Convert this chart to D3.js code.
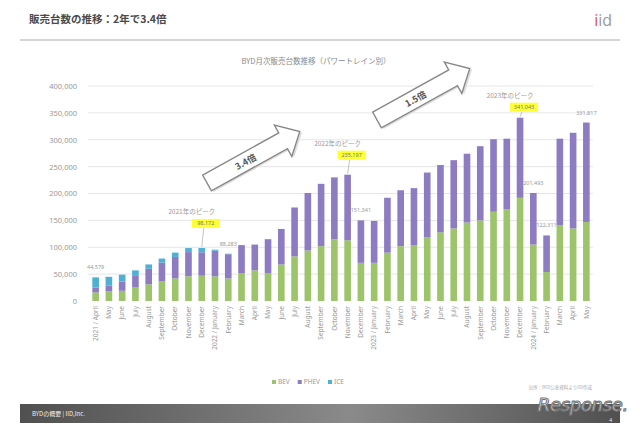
<!DOCTYPE html>
<html><head><meta charset="utf-8">
<script src="https://cdn.jsdelivr.net/npm/d3@7"></script>
<style>
html,body{margin:0;padding:0;background:#fff;}
svg{display:block;}
</style></head>
<body><svg id="c" width="640" height="426"></svg>
<script>
const months = ["2021 / April","May","June","July","August","September","October","November","December",
"2022 / January","February","March","April","May","June","July","August","September","October","November","December",
"2023 / January","February","March","April","May","June","July","August","September","October","November","December",
"2024 / January","February","March","April","May"];
const bev  = [16000,18000,19000,25000,31000,37000,42000,46000,47000,46000,42000,52000,57000,52000,68000,83000,94000,102000,115000,113000,71000,71000,90000,102000,104000,119000,128000,135000,146000,150000,166000,171000,192000,105000,54000,141000,135000,147000];
const phev = [9000,11000,17000,23000,29000,34500,40000,45000,43700,47500,45000,52000,48000,63000,66000,91000,107000,116000,115000,122000,79000,78000,102000,104000,106000,120000,125000,127000,128000,138000,135000,131000,149000,96000,68000,161000,178000,185000];
const ice  = [19000,16000,13000,9000,8000,7500,8000,7500,8000,2000,1000,0,0,0,0,0,0,0,0,0,0,0,0,0,0,0,0,0,0,0,0,0,0,0,0,0,0,0];
const yTicks = [0,50000,100000,150000,200000,250000,300000,350000,400000];
const seriesNames = ["BEV","PHEV","ICE"];
const seriesColors = ["#9dc36b","#8e7cc3","#4fb0d6"];
const valueLabels = [{i:0,t:"44,579"},{i:10,t:"88,283"},{i:20,t:"151,341"},{i:33,t:"201,493"},{i:34,t:"122,311"},{i:37,t:"331,817"}];
const peaks = [{i:8,title:"2021年のピーク",t:"98,172",gap:20},{i:19,title:"2022年のピーク",t:"235,197",gap:15},{i:32,title:"2023年のピーク",t:"341,043",gap:6}];

const svg = d3.select("#c");
const JP = "'Noto Sans CJK JP','Noto Sans',sans-serif";

// header
svg.append("text").attr("x",29).attr("y",23).attr("font-family",JP).attr("font-size",10.5).attr("font-weight","bold").attr("fill","#4a4a4a").text("販売台数の推移：2年で3.4倍");
const logo = svg.append("text").attr("x",612).attr("y",26).attr("text-anchor","end").attr("font-family","'Open Sans',sans-serif").attr("font-size",16).attr("fill","#999");
logo.append("tspan").attr("fill","#d9534f").text("i");
logo.append("tspan").text("id");
svg.append("rect").attr("x",20).attr("y",39).attr("width",600).attr("height",2).attr("fill","#d4d4d4");

// chart title
svg.append("text").attr("x",316).attr("y",64).attr("text-anchor","middle").attr("font-family",JP).attr("font-size",7.5).attr("fill","#888").text("BYD月次販売台数推移（パワートレイン別）");

const x = d3.scaleBand().domain(months.map((m,i)=>i)).range([89,593]).paddingInner(0.5).paddingOuter(0.25);
const y = d3.scaleLinear().domain([0,400000]).range([301,86]);

// grid
svg.append("g").selectAll("line").data(yTicks.slice(1)).join("line")
  .attr("x1",88).attr("x2",593).attr("y1",d=>y(d)).attr("y2",d=>y(d)).attr("stroke","#e0e0e0").attr("stroke-width",0.8);

// y axis
const yAxis = svg.append("g").attr("transform","translate(80,0)")
  .call(d3.axisLeft(y).tickValues(yTicks).tickSize(0).tickPadding(3).tickFormat(d3.format(",")));
yAxis.select(".domain").remove();
yAxis.selectAll("text").attr("font-family","'Noto Sans',sans-serif").attr("font-size",7.5).attr("fill","#999");

// x axis
const xAxis = svg.append("g").attr("transform","translate(0,303)")
  .call(d3.axisBottom(x).tickSize(0).tickFormat(i=>months[i]));
xAxis.select(".domain").remove();
xAxis.selectAll("text").attr("font-family","'Noto Sans',sans-serif").attr("font-size",6.5).attr("fill","#999")
  .attr("transform","rotate(-90)").attr("text-anchor","end").attr("dx","-3").attr("dy","0.35em").attr("x",0).attr("y",0);

// stacked bars
const table = months.map((m,i)=>({i,BEV:bev[i],PHEV:phev[i],ICE:ice[i]}));
const stack = d3.stack().keys(seriesNames)(table);
svg.append("g").selectAll("g").data(stack).join("g").attr("fill",(d,k)=>seriesColors[k])
  .selectAll("rect").data(d=>d).join("rect")
  .attr("x",d=>x(d.data.i)).attr("width",x.bandwidth())
  .attr("y",d=>y(d[1])).attr("height",d=>Math.max(0,y(d[0])-y(d[1])));

const total = i=>bev[i]+phev[i]+ice[i];
const cx = i=>x(i)+x.bandwidth()/2;

// value labels
svg.append("g").selectAll("text").data(valueLabels).join("text")
  .attr("x",d=>cx(d.i)).attr("y",d=>y(total(d.i))-8).attr("text-anchor","middle")
  .attr("font-family","'Noto Sans',sans-serif").attr("font-size",5.5).attr("fill","#999").text(d=>d.t);

// peaks
const pk = svg.append("g");
peaks.forEach(p=>{
  const bx = cx(p.i), top = y(total(p.i));
  const bb = top - p.gap;
  pk.append("line").attr("x1",bx+2).attr("y1",bb).attr("x2",bx).attr("y2",top-1).attr("stroke","#aaa").attr("stroke-width",0.7);
  pk.append("rect").attr("x",bx-10).attr("y",bb-9).attr("width",28).attr("height",9).attr("fill","#ffff33");
  pk.append("text").attr("x",bx+4).attr("y",bb-2.5).attr("text-anchor","middle").attr("font-family","'Noto Sans',sans-serif").attr("font-size",5.5).attr("fill","#777").text(p.t);
  pk.append("text").attr("x",bx-10).attr("y",bb-14).attr("text-anchor","middle").attr("font-family",JP).attr("font-size",6.5).attr("fill","#999").text(p.title);
});

// arrows
function arrow(tx,ty,ang,label){
  const g = svg.append("g").attr("transform",`translate(${tx},${ty}) rotate(${ang})`);
  const pts = [[0,-9],[87,-9],[87,-18],[106,0],[87,18],[87,9],[0,9]];
  g.append("path").attr("d","M"+pts.map(p=>p.join(",")).join("L")+"Z").attr("transform","translate(1.5,2)").attr("fill","#ddd");
  g.append("path").attr("d","M"+pts.map(p=>p.join(",")).join("L")+"Z").attr("fill","#fff").attr("stroke","#888").attr("stroke-width",1.4);
  g.append("text").attr("x",44).attr("y",3.5).attr("text-anchor","middle").attr("font-family",JP).attr("font-size",9).attr("font-weight","bold").attr("fill","#555").text(label);
}
arrow(207,183,-29,"3.4倍");
arrow(377,120,-29,"1.5倍");

// legend
const lg = svg.append("g").attr("transform","translate(272,384)");
let lx = 0;
seriesNames.forEach((n,k)=>{
  lg.append("rect").attr("x",lx).attr("y",-4).attr("width",4).attr("height",4).attr("fill",seriesColors[k]);
  const t = lg.append("text").attr("x",lx+6).attr("y",0).attr("font-family","'Noto Sans',sans-serif").attr("font-size",6.5).attr("fill","#999").text(n);
  lx += 6 + t.node().getComputedTextLength() + 8;
});

// source note
svg.append("text").attr("x",592).attr("y",389).attr("text-anchor","end").attr("font-family",JP).attr("font-size",4.5).attr("fill","#aaa").text("出所：BYD公表資料よりIID作成");

// footer
const grad = svg.append("defs").append("linearGradient").attr("id","fg");
grad.append("stop").attr("offset","0%").attr("stop-color","#505050");
grad.append("stop").attr("offset","55%").attr("stop-color","#8a8a8a");
grad.append("stop").attr("offset","100%").attr("stop-color","#505050");
svg.append("rect").attr("x",20).attr("y",404).attr("width",600).attr("height",19).attr("fill","url(#fg)");
svg.append("text").attr("x",32).attr("y",416).attr("font-family",JP).attr("font-size",6).attr("fill","#eee").text("BYDの概要 | IID,Inc.");
svg.append("text").attr("x",612).attr("y",422).attr("text-anchor","end").attr("font-family","'Noto Sans',sans-serif").attr("font-size",5).attr("fill","#eee").text("4");

// watermark
svg.append("text").attr("x",628).attr("y",410.5).attr("text-anchor","end").attr("font-family","'DejaVu Sans',sans-serif").attr("font-size",18).attr("font-style","italic")
  .attr("fill","#fff").attr("stroke","#777").attr("stroke-width",1.1).attr("letter-spacing",-0.3).text("Response.");
</script></body></html>
